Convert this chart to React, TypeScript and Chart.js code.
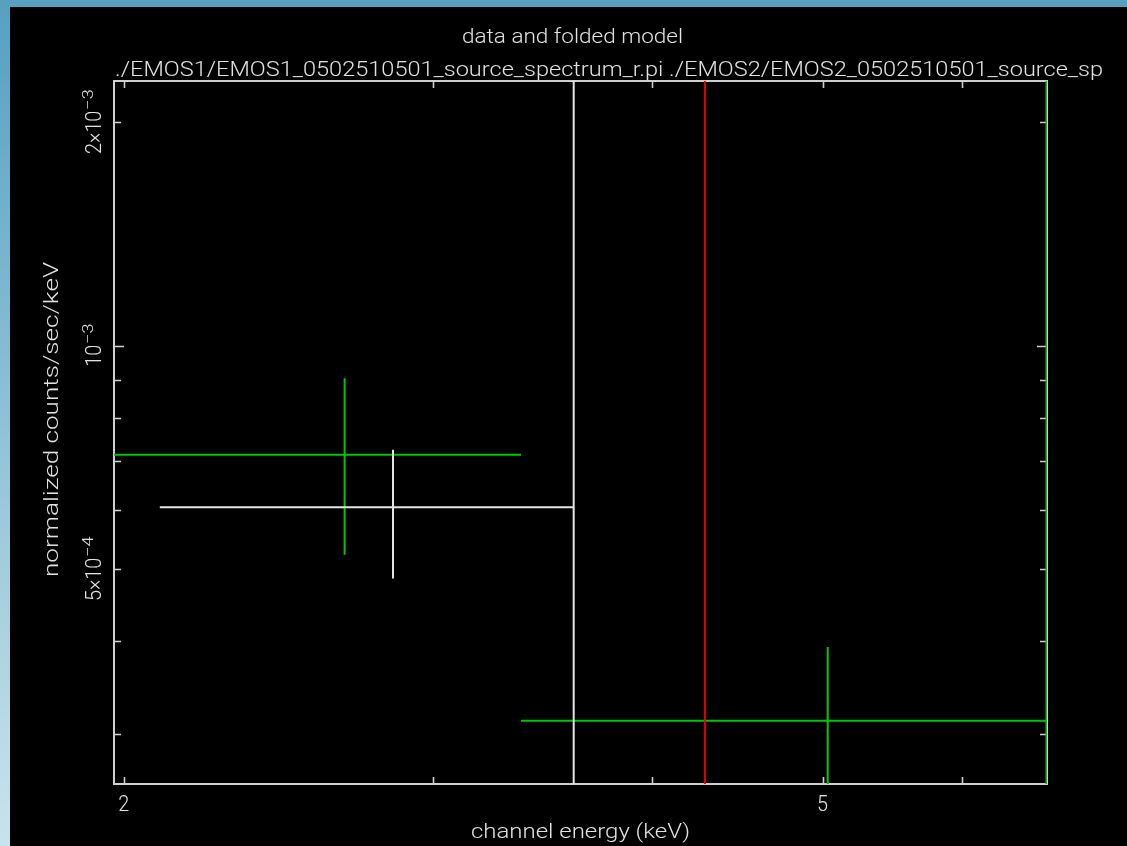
import React, { useEffect, useRef } from "react";
import { Chart, registerables } from "chart.js";

Chart.register(...registerables);

// ---- axis ranges (log scales) ----
const X_MIN = 1.9748;
const X_MAX = 6.7106;
const Y_MIN = 2.569e-4;
const Y_MAX = 2.2724e-3;

// ---- ticks ----
const xTickValues = [2, 3, 4, 5, 6];
const xTickLabels = ["2", "", "", "5", ""];
const yTickValues = [3e-4, 4e-4, 5e-4, 6e-4, 7e-4, 8e-4, 9e-4, 1e-3, 2e-3];
const yMajorTickValues = [1e-3];
const yLabelValues = [2e-3, 1e-3, 5e-4];
const yLabelMantissa = ["2×10", "10", "5×10"];
const yLabelExponent = ["−3", "−3", "−4"];

// ---- texts ----
const titleText = "data and folded model";
const subtitleText =
  "./EMOS1/EMOS1_0502510501_source_spectrum_r.pi ./EMOS2/EMOS2_0502510501_source_sp";
const xAxisTitle = "channel energy (keV)";
const yAxisTitle = "normalized counts/sec/keV";

// ---- data set 1 (white) ----
const set1BinLo = [2.097];
const set1BinHi = [3.608];
const set1Energy = [2.847];
const set1Rate = [6.06e-4];
const set1ErrLo = [4.86e-4];
const set1ErrHi = [7.24e-4];
const set1ModelEdges = [3.608];

// ---- data set 2 (red) : only the model step is visible ----
const set2ModelEdges = [4.285];

// ---- data set 3 (green) ----
const set3BinLo = [1.9748, 3.367];
const set3BinHi = [3.367, 6.706];
const set3Energy = [2.672, 5.034];
const set3Rate = [7.13e-4, 3.126e-4];
const set3ErrLo = [5.23e-4, 2.3e-4];
const set3ErrHi = [9.04e-4, 3.93e-4];
const set3ModelEdges = [6.706];

// model steps run off the plotted range
const modelLow = 1e-4;
const modelHigh = 1e-2;

const WHITE = "#e4e4e4";
const FRAME = "#cfcfcf";
const RED = "#e80000";
const GREEN = "#00c800";
const TEXT = "#e2e2e2";
const FAMILY = 'Roboto, "DejaVu Sans", sans-serif';

type Pt = { x: number; y: number | null };

function crosses(lo: number[], hi: number[], xs: number[], ys: number[], eLo: number[], eHi: number[]): Pt[] {
  const pts: Pt[] = [];
  for (let i = 0; i < xs.length; i++) {
    pts.push({ x: lo[i], y: ys[i] }, { x: hi[i], y: ys[i] }, { x: hi[i], y: null });
    pts.push({ x: xs[i], y: eLo[i] }, { x: xs[i], y: eHi[i] }, { x: xs[i], y: null });
  }
  return pts;
}

function steps(edges: number[]): Pt[] {
  const pts: Pt[] = [];
  edges.forEach((e) => {
    pts.push({ x: e, y: modelLow }, { x: e, y: modelHigh }, { x: e, y: null });
  });
  return pts;
}

function fitted(ctx: CanvasRenderingContext2D, text: string, x: number, y: number, width: number, font: string, align: CanvasTextAlign) {
  ctx.save();
  ctx.font = font;
  const w = ctx.measureText(text).width;
  ctx.translate(x, y);
  ctx.scale(width / w, 1);
  ctx.textAlign = align;
  ctx.textBaseline = "alphabetic";
  ctx.fillStyle = TEXT;
  ctx.fillText(text, 0, 0);
  ctx.restore();
}

const pgplotPlugin = {
  id: "pgplot",
  beforeDraw(chart: any) {
    const ctx = chart.ctx as CanvasRenderingContext2D;
    const W = chart.width;
    const H = chart.height;
    ctx.save();
    const g = ctx.createLinearGradient(0, 0, 0, H);
    g.addColorStop(0, "#56a0c0");
    g.addColorStop(1, "#c9e3ec");
    ctx.fillStyle = g;
    ctx.fillRect(0, 0, W, H);
    ctx.fillStyle = "#000000";
    ctx.fillRect(10, 7, W - 10, H - 7);
    ctx.restore();
  },
  beforeDatasetsDraw(chart: any) {
    const ctx = chart.ctx as CanvasRenderingContext2D;
    const a = chart.chartArea;
    const xs = chart.scales.x;
    const ys = chart.scales.y;
    ctx.save();
    ctx.strokeStyle = FRAME;
    ctx.lineWidth = 2;
    ctx.strokeRect(a.left, a.top, a.right - a.left, a.bottom - a.top);
    ctx.beginPath();
    xTickValues.forEach((v) => {
      const px = Math.round(xs.getPixelForValue(v)) + 0.5;
      ctx.moveTo(px, a.bottom);
      ctx.lineTo(px, a.bottom - 7);
      ctx.moveTo(px, a.top);
      ctx.lineTo(px, a.top + 7);
    });
    yTickValues.forEach((v) => {
      const py = Math.round(ys.getPixelForValue(v)) + 0.5;
      const len = yMajorTickValues.includes(v) ? 10 : 7;
      ctx.moveTo(a.left, py);
      ctx.lineTo(a.left + len, py);
      ctx.moveTo(a.right, py);
      ctx.lineTo(a.right - len, py);
    });
    ctx.lineWidth = 1.6;
    ctx.stroke();
    ctx.restore();
  },
  afterDraw(chart: any) {
    const ctx = chart.ctx as CanvasRenderingContext2D;
    const xs = chart.scales.x;
    const ys = chart.scales.y;
    const font = `300 20px ${FAMILY}`;
    fitted(ctx, titleText, 462, 43, 221, font, "left");
    fitted(ctx, subtitleText, 115, 76, 988, font, "left");
    fitted(ctx, xAxisTitle, 471, 838, 219, font, "left");
    // y axis title (rotated)
    ctx.save();
    ctx.translate(58, 419.5);
    ctx.rotate(-Math.PI / 2);
    fitted(ctx, yAxisTitle, 0, 0, 315, font, "center");
    ctx.restore();
    // x tick labels
    const tickFont = `300 22px ${FAMILY}`;
    xTickValues.forEach((v, i) => {
      if (!xTickLabels[i]) return;
      const px = xs.getPixelForValue(v);
      ctx.save();
      ctx.font = tickFont;
      const w = ctx.measureText(xTickLabels[i]).width * 0.9;
      ctx.restore();
      fitted(ctx, xTickLabels[i], px, 811, w, tickFont, "center");
    });
    // y tick labels (rotated, with exponents)
    const supFont = `300 15px ${FAMILY}`;
    yLabelValues.forEach((v, i) => {
      const py = ys.getPixelForValue(v);
      ctx.save();
      ctx.font = tickFont;
      const wm = ctx.measureText(yLabelMantissa[i]).width * 0.9;
      ctx.font = supFont;
      const we = ctx.measureText(yLabelExponent[i]).width * 1.2;
      ctx.translate(101, py);
      ctx.rotate(-Math.PI / 2);
      const total = wm + we;
      fitted(ctx, yLabelMantissa[i], -total / 2, 0, wm, tickFont, "left");
      fitted(ctx, yLabelExponent[i], -total / 2 + wm + 1, -8, we, supFont, "left");
      ctx.restore();
    });
  },
};

export default function App() {
  const ref = useRef<HTMLCanvasElement | null>(null);
  useEffect(() => {
    if (!ref.current) return;
    const common = { showLine: true, pointRadius: 0, borderWidth: 2, fill: false, tension: 0, spanGaps: false };
    const chart = new Chart(ref.current, {
      type: "scatter",
      data: {
        datasets: [
          { ...common, label: "set1 model", data: steps(set1ModelEdges), borderColor: WHITE },
          { ...common, label: "set2 model", data: steps(set2ModelEdges), borderColor: RED },
          { ...common, label: "set1 data", data: crosses(set1BinLo, set1BinHi, set1Energy, set1Rate, set1ErrLo, set1ErrHi), borderColor: WHITE },
          { ...common, label: "set3 data", data: crosses(set3BinLo, set3BinHi, set3Energy, set3Rate, set3ErrLo, set3ErrHi), borderColor: GREEN },
          { ...common, label: "set3 model", data: steps(set3ModelEdges), borderColor: GREEN },
        ] as any,
      },
      options: {
        animation: false,
        responsive: false,
        devicePixelRatio: 1,
        layout: { padding: { left: 114, top: 81, right: 80, bottom: 62 } },
        plugins: { legend: { display: false }, tooltip: { enabled: false }, title: { display: false } },
        scales: {
          x: { type: "logarithmic", display: false, min: X_MIN, max: X_MAX, bounds: "data" },
          y: { type: "logarithmic", display: false, min: Y_MIN, max: Y_MAX, bounds: "data" },
        },
      } as any,
      plugins: [pgplotPlugin],
    });
    return () => chart.destroy();
  }, []);
  return (
    <div style={{ position: "absolute", left: 0, top: 0, width: 1127, height: 846 }}>
      <canvas ref={ref} width={1127} height={846} style={{ display: "block" }} />
    </div>
  );
}
